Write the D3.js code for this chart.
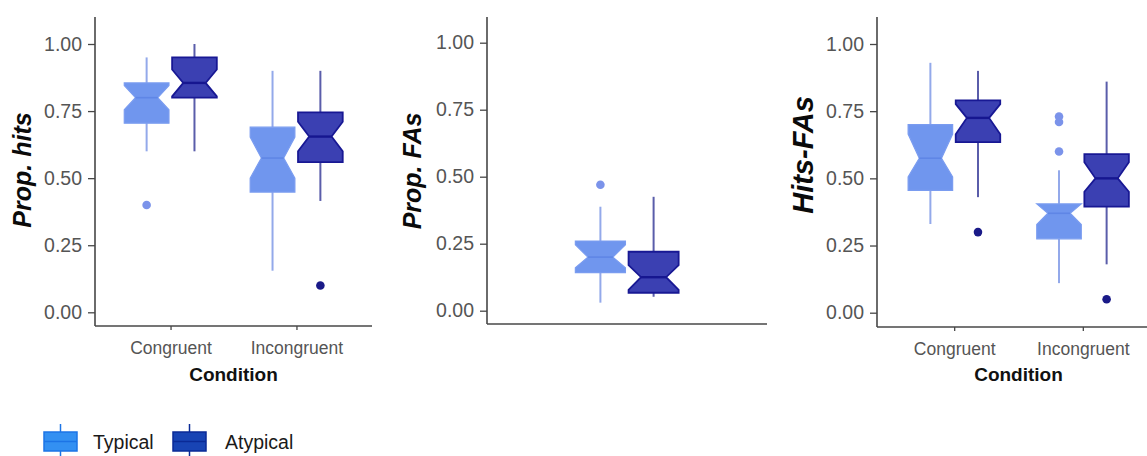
<!DOCTYPE html>
<html>
<head>
<meta charset="utf-8">
<script src="https://cdn.jsdelivr.net/npm/d3@7/dist/d3.min.js"></script>
<style>
  html, body { margin: 0; padding: 0; background: #ffffff; }
  svg { display: block; }
</style>
</head>
<body>
<svg id="chart" width="1147" height="456"></svg>
<script>
// ---- Data -------------------------------------------------------------
const conditions = ["Congruent", "Incongruent"];
const groups = ["Typical", "Atypical"];
const yTickValues = [0, 0.25, 0.5, 0.75, 1];
const yTickLabels = ["0.00", "0.25", "0.50", "0.75", "1.00"];

// Box summaries per condition: [lower whisker, Q1, median, Q3, upper whisker]
// Proportion of hits
const hitsTypical  = [[0.60, 0.705, 0.80, 0.855, 0.95], [0.155, 0.448, 0.575, 0.69, 0.90]];
const hitsAtypical = [[0.60, 0.80, 0.855, 0.95, 1.00], [0.415, 0.56, 0.655, 0.745, 0.90]];
const hitsTypicalNotch  = [[0.755, 0.845], [0.50, 0.653]];
const hitsAtypicalNotch = [[0.805, 0.905], [0.60, 0.71]];
const hitsTypicalOutliers  = [[0.40], []];
const hitsAtypicalOutliers = [[], [0.10]];

// Proportion of false alarms (single pooled box per group)
const faTypical  = [[0.03, 0.142, 0.20, 0.26, 0.388]];
const faAtypical = [[0.052, 0.067, 0.125, 0.22, 0.425]];
const faTypicalNotch  = [[0.16, 0.246]];
const faAtypicalNotch = [[0.078, 0.17]];
const faTypicalOutliers  = [[0.47]];
const faAtypicalOutliers = [[]];

// Hits minus false alarms
const diffTypical  = [[0.33, 0.455, 0.575, 0.70, 0.93], [0.11, 0.275, 0.37, 0.405, 0.53]];
const diffAtypical = [[0.43, 0.635, 0.725, 0.79, 0.90], [0.18, 0.395, 0.50, 0.59, 0.86]];
const diffTypicalNotch  = [[0.505, 0.665], [0.328, 0.405]];
const diffAtypicalNotch = [[0.664, 0.776], [0.45, 0.56]];
const diffTypicalOutliers  = [[], [0.60, 0.71, 0.73]];
const diffAtypicalOutliers = [[0.30], [0.05]];

// ---- Styles -----------------------------------------------------------
const groupStyle = {
  Typical:  { fill: "#7096ee", stroke: "#7a9cf0", median: "#5f86e6", whisker: "#93a9ea", point: "#7b93ea", sw: 1.2, mw: 1.6 },
  Atypical: { fill: "#3b40b2", stroke: "#181894", median: "#161690", whisker: "#5a5daa", point: "#1a1a88", sw: 1.8, mw: 2.4 }
};
const legendStyle = {
  Typical:  { fill: "#3390f2", stroke: "#1c74e6" },
  Atypical: { fill: "#1844b4", stroke: "#0a2a96" }
};
const axisColor = "#474747";
const tickTextColor = "#555555";

const svg = d3.select("#chart");

// ---- Panels -----------------------------------------------------------
const panels = [
  {
    title: "Prop. hits", titleX: 31, titleY: 170, titleSize: 25,
    categories: conditions, showX: true,
    left: 95, right: 372, top: 17, axisY: 326, y0: 312.3, y1: 44,
    dodge: 0.19, boxW: 0.355,
    series: {
      Typical:  { box: hitsTypical,  notch: hitsTypicalNotch,  out: hitsTypicalOutliers },
      Atypical: { box: hitsAtypical, notch: hitsAtypicalNotch, out: hitsAtypicalOutliers }
    }
  },
  {
    title: "Prop. FAs", titleX: 421, titleY: 171, titleSize: 25,
    categories: ["All"], showX: false,
    left: 487, right: 767, top: 17, axisY: 324, y0: 310.7, y1: 42.7,
    dodge: 0.114, boxW: 0.2146,
    series: {
      Typical:  { box: faTypical,  notch: faTypicalNotch,  out: faTypicalOutliers },
      Atypical: { box: faAtypical, notch: faAtypicalNotch, out: faAtypicalOutliers }
    }
  },
  {
    title: "Hits-FAs", titleX: 813, titleY: 155, titleSize: 29,
    categories: conditions, showX: true,
    left: 877, right: 1160, top: 17, axisY: 327, y0: 312.7, y1: 44,
    dodge: 0.185, boxW: 0.346,
    series: {
      Typical:  { box: diffTypical,  notch: diffTypicalNotch,  out: diffTypicalOutliers },
      Atypical: { box: diffAtypical, notch: diffAtypicalNotch, out: diffAtypicalOutliers }
    }
  }
];

panels.forEach(p => {
  const g = svg.append("g");
  const x = d3.scalePoint().domain(p.categories).range([p.left, p.right]).padding(0.6);
  const step = p.categories.length > 1 ? x.step() : (p.right - p.left) / 1.2;
  const y = d3.scaleLinear().domain([0, 1]).range([p.y0, p.y1]);
  const halfW = p.boxW * step / 2;

  // boxes
  groups.forEach((grp, gi) => {
    const st = groupStyle[grp];
    const s = p.series[grp];
    p.categories.forEach((cat, ci) => {
      const [lo, q1, med, q3, hi] = s.box[ci];
      const [nLo, nHi] = s.notch[ci];
      const cx = x(cat) + (gi === 0 ? -1 : 1) * p.dodge * step;
      const xmin = cx - halfW, xmax = cx + halfW;
      const indent = (xmax - xmin) * 0.25;

      // whiskers
      g.append("line")
        .attr("x1", cx).attr("x2", cx).attr("y1", y(hi)).attr("y2", y(q3))
        .attr("stroke", st.whisker).attr("stroke-width", 2);
      g.append("line")
        .attr("x1", cx).attr("x2", cx).attr("y1", y(q1)).attr("y2", y(lo))
        .attr("stroke", st.whisker).attr("stroke-width", 2);

      // notched box
      const pts = [
        [xmin, y(q3)], [xmin, y(nHi)], [xmin + indent, y(med)], [xmin, y(nLo)], [xmin, y(q1)],
        [xmax, y(q1)], [xmax, y(nLo)], [xmax - indent, y(med)], [xmax, y(nHi)], [xmax, y(q3)]
      ];
      g.append("path")
        .attr("d", d3.line()(pts) + "Z")
        .attr("fill", st.fill).attr("stroke", st.stroke).attr("stroke-width", st.sw)
        .attr("stroke-linejoin", "miter");
      g.append("line")
        .attr("x1", xmin + indent).attr("x2", xmax - indent)
        .attr("y1", y(med)).attr("y2", y(med))
        .attr("stroke", st.median).attr("stroke-width", st.mw);

      // outliers
      s.out[ci].forEach(v => {
        g.append("circle")
          .attr("cx", cx).attr("cy", y(v)).attr("r", 4.3)
          .attr("fill", st.point);
      });
    });
  });

  // y axis
  const yAxis = d3.axisLeft(y).tickValues(yTickValues)
    .tickFormat((d, i) => yTickLabels[i]).tickSize(7).tickPadding(6);
  const ya = g.append("g").attr("transform", `translate(${p.left},0)`).call(yAxis);
  ya.select(".domain").remove();
  ya.selectAll(".tick line").attr("stroke", axisColor).attr("stroke-width", 1.3);
  ya.selectAll(".tick text")
    .attr("fill", tickTextColor)
    .style("font-family", "'Liberation Sans', Arial, sans-serif")
    .style("font-size", "19.5px");
  g.append("line")
    .attr("x1", p.left).attr("x2", p.left).attr("y1", p.top).attr("y2", p.axisY)
    .attr("stroke", axisColor).attr("stroke-width", 1.6);

  // x axis
  g.append("line")
    .attr("x1", p.left).attr("x2", p.right).attr("y1", p.axisY).attr("y2", p.axisY)
    .attr("stroke", axisColor).attr("stroke-width", 1.6);
  if (p.showX) {
    const xAxis = d3.axisBottom(x).tickSize(4).tickPadding(12);
    const xa = g.append("g").attr("transform", `translate(0,${p.axisY})`).call(xAxis);
    xa.select(".domain").remove();
    xa.selectAll(".tick line").attr("stroke", axisColor).attr("stroke-width", 1.3);
    xa.selectAll(".tick text")
      .attr("fill", tickTextColor)
      .style("font-family", "'Liberation Sans', Arial, sans-serif")
      .style("font-size", "17.5px");
    g.append("text")
      .attr("x", (x(p.categories[0]) + x(p.categories[p.categories.length - 1])) / 2)
      .attr("y", 381)
      .attr("text-anchor", "middle")
      .attr("fill", "#111")
      .style("font-family", "'Liberation Sans', Arial, sans-serif")
      .style("font-weight", "bold")
      .style("font-size", "19px")
      .text("Condition");
  }

  // y title
  g.append("text")
    .attr("transform", `translate(${p.titleX},${p.titleY}) rotate(-90)`)
    .attr("text-anchor", "middle")
    .attr("fill", "#0a0a0a")
    .style("font-family", "'Liberation Sans', Arial, sans-serif")
    .style("font-weight", "bold")
    .style("font-style", "italic")
    .style("font-size", p.titleSize + "px")
    .text(p.title);
});

// ---- Legend -----------------------------------------------------------
const legend = svg.append("g");
const legendItems = [
  { key: "Typical",  x: 44,  textX: 93 },
  { key: "Atypical", x: 173, textX: 225 }
];
legendItems.forEach(it => {
  const st = legendStyle[it.key];
  const w = 33, top = 432, h = 19, cx = it.x + w / 2;
  legend.append("line").attr("x1", cx).attr("x2", cx).attr("y1", 424).attr("y2", 458)
    .attr("stroke", st.stroke).attr("stroke-width", 1.5);
  legend.append("rect").attr("x", it.x).attr("y", top).attr("width", w).attr("height", h)
    .attr("fill", st.fill).attr("stroke", st.stroke).attr("stroke-width", 1.5);
  legend.append("line").attr("x1", it.x).attr("x2", it.x + w).attr("y1", top + h / 2).attr("y2", top + h / 2)
    .attr("stroke", st.stroke).attr("stroke-width", 1.5);
  legend.append("text")
    .attr("x", it.textX).attr("y", 449)
    .attr("fill", "#1a1a1a")
    .style("font-family", "'Liberation Sans', Arial, sans-serif")
    .style("font-size", "19.5px")
    .text(it.key);
});
</script>
</body>
</html>
